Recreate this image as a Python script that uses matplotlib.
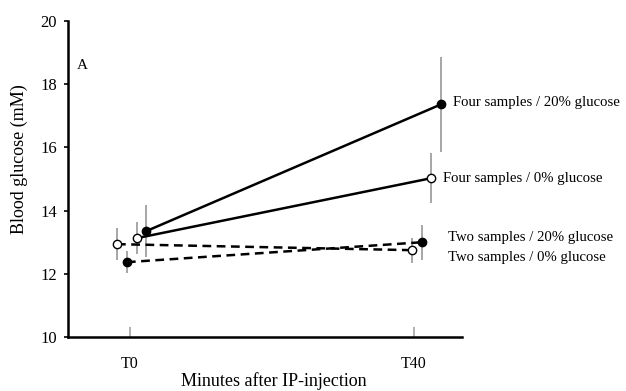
import matplotlib
matplotlib.use("Agg")
import matplotlib.pyplot as plt

plt.rcParams['font.family'] = ['Liberation Serif', 'DejaVu Serif']

# time points (minutes after injection)
times = [0, 40]
tick_labels = ["T0", "T40"]

# series values
two_0_mean = [12.94, 12.75]
two_0_err = [0.50, 0.40]
two_20_mean = [12.37, 13.00]
two_20_err = [0.35, 0.55]
four_0_mean = [13.13, 15.03]
four_0_err = [0.50, 0.80]
four_20_mean = [13.35, 17.37]
four_20_err = [0.83, 1.50]

series = [
    ("Two samples / 0% glucose", two_0_mean, two_0_err, "white", (0, (3.5, 2.2)), -1.8, -0.3),
    ("Two samples / 20% glucose", two_20_mean, two_20_err, "black", (0, (3.5, 2.2)), -0.4, 1.1),
    ("Four samples / 0% glucose", four_0_mean, four_0_err, "white", "-", 1.0, 2.5),
    ("Four samples / 20% glucose", four_20_mean, four_20_err, "black", "-", 2.3, 3.9),
]
# label offsets (points) relative to last point
label_pos = {
    "Two samples / 0% glucose": (26, -5.5),
    "Two samples / 20% glucose": (19, 3.5),
    "Four samples / 0% glucose": (8, 0),
    "Four samples / 20% glucose": (8, 1),
}

fig = plt.figure(figsize=(6.26, 3.91), dpi=100)
ax = fig.add_axes([0.1086, 0.138, 0.6294, 0.808])

for name, mean, err, face, ls, off0, off40 in series:
    xs = [times[0] + off0, times[1] + off40]
    ax.errorbar(xs, mean, yerr=err, fmt="none", ecolor="#a6a6a6",
                elinewidth=1.4, capsize=0, zorder=1)
    ax.plot(xs, mean, color="black", linestyle=ls, linewidth=1.8,
            marker="o", markersize=6, markerfacecolor=face,
            markeredgecolor="black", markeredgewidth=1.0, zorder=3)
    ax.annotate(name, xy=(xs[1], mean[1]), xytext=label_pos[name],
                textcoords="offset points", va="center", ha="left",
                fontsize=10.6, annotation_clip=False)

ax.set_xlim(-8.7, 46.8)
ax.set_ylim(10, 20)
ax.set_yticks([10, 12, 14, 16, 18, 20])
ax.set_xticks(times)
ax.set_xticklabels(tick_labels)

for s in ["top", "right"]:
    ax.spines[s].set_visible(False)
ax.spines["left"].set_linewidth(1.8)
ax.spines["bottom"].set_linewidth(1.8)

ax.tick_params(axis="y", direction="out", length=3, width=1.2, labelsize=12, pad=5)
ax.tick_params(axis="x", direction="in", length=7, width=1.2, color="#a6a6a6",
               labelsize=11.5, pad=14)

ax.set_xlabel("Minutes after IP-injection", fontsize=13)
ax.xaxis.set_label_coords(0.523, -0.112)
ax.set_ylabel("Blood glucose (mM)", fontsize=13)
ax.yaxis.set_label_coords(-0.102, 0.563)

ax.text(-7.4, 18.6, "A", fontsize=11, ha="left", va="center")

fig.savefig("out.png", dpi=100)
